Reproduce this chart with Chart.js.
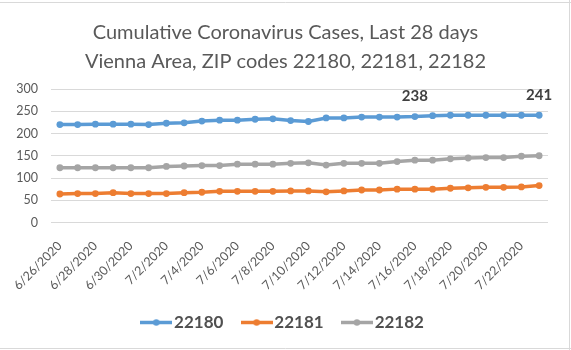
<!DOCTYPE html>
<html>
<head>
<meta charset="utf-8">
<script src="https://cdn.jsdelivr.net/npm/chart.js@4/dist/chart.umd.min.js"></script>
<style>
  html, body { margin: 0; padding: 0; background: #fff; }
  #chartBox { width: 571px; height: 350px; }
</style>
</head>
<body>
<div id="chartBox"><canvas id="casesChart" width="571" height="350"></canvas></div>
<script>
const dayLabels = [
  '6/26/2020', '6/27/2020', '6/28/2020', '6/29/2020', '6/30/2020', '7/1/2020', '7/2/2020',
  '7/3/2020', '7/4/2020', '7/5/2020', '7/6/2020', '7/7/2020', '7/8/2020', '7/9/2020',
  '7/10/2020', '7/11/2020', '7/12/2020', '7/13/2020', '7/14/2020', '7/15/2020', '7/16/2020',
  '7/17/2020', '7/18/2020', '7/19/2020', '7/20/2020', '7/21/2020', '7/22/2020', '7/23/2020'
];
const zipCodes = ['22180', '22181', '22182'];
const cases22180 = [220, 220, 221, 221, 221, 220, 223, 224, 228, 230, 230, 232, 233, 229, 227, 235, 235, 237, 237, 237, 238, 240, 241, 241, 241, 241, 241, 241];
const cases22181 = [64, 65, 65, 67, 65, 65, 65, 67, 68, 70, 70, 70, 70, 71, 71, 69, 71, 73, 73, 75, 75, 75, 77, 78, 79, 79, 80, 83];
const cases22182 = [123, 123, 123, 123, 123, 123, 126, 127, 128, 128, 131, 131, 131, 133, 134, 129, 133, 133, 133, 137, 140, 140, 143, 145, 146, 146, 149, 150];
const yTicks = [0, 50, 100, 150, 200, 250, 300];
// days on the 22180 line that get a value label
const labeledDays = [20, 27];

const seriesColors = ['#5B9BD5', '#ED7D31', '#A5A5A5'];
const fontFamily = 'Lato, "Liberation Sans", sans-serif';

// legend swatch: short line with a dot in the middle
const makeSwatch = (color) => {
  const c = document.createElement('canvas');
  c.width = 32;
  c.height = 9;
  const ctx = c.getContext('2d');
  ctx.strokeStyle = color;
  ctx.lineWidth = 3.5;
  ctx.beginPath();
  ctx.moveTo(0, 4.5);
  ctx.lineTo(32, 4.5);
  ctx.stroke();
  ctx.fillStyle = color;
  ctx.beginPath();
  ctx.arc(16, 4.5, 3.2, 0, Math.PI * 2);
  ctx.fill();
  return c;
};
const swatches = seriesColors.map(makeSwatch);

// white background plus the thin frame lines around the chart
const frame = {
  id: 'frame',
  beforeDraw(chart) {
    const { ctx, width, height } = chart;
    ctx.save();
    ctx.fillStyle = '#fff';
    ctx.fillRect(0, 0, width, height);
    ctx.strokeStyle = '#d9d9d9';
    ctx.lineWidth = 1;
    ctx.beginPath();
    ctx.moveTo(0, 2.5);
    ctx.lineTo(width, 2.5);
    ctx.moveTo(0, height - 1.5);
    ctx.lineTo(width, height - 1.5);
    ctx.moveTo(width - 1.5, 0);
    ctx.lineTo(width - 1.5, height);
    ctx.stroke();
    ctx.restore();
  }
};

const valueLabels = {
  id: 'valueLabels',
  afterDatasetsDraw(chart) {
    const meta = chart.getDatasetMeta(0);
    const ctx = chart.ctx;
    ctx.save();
    ctx.font = 'bold 15px ' + fontFamily;
    ctx.fillStyle = '#404040';
    ctx.textAlign = 'center';
    ctx.textBaseline = 'middle';
    labeledDays.forEach((i) => {
      const pt = meta.data[i];
      ctx.fillText(String(cases22180[i]), pt.x, pt.y - 20);
    });
    ctx.restore();
  }
};

const makeDataset = (label, data, color) => ({
  label,
  data,
  borderColor: color,
  backgroundColor: color,
  pointBackgroundColor: color,
  pointBorderColor: color,
  borderWidth: 3.5,
  pointRadius: 3.4,
  pointBorderWidth: 0,
  tension: 0
});

new Chart(document.getElementById('casesChart'), {
  type: 'line',
  data: {
    labels: dayLabels,
    datasets: [
      makeDataset(zipCodes[0], cases22180, seriesColors[0]),
      makeDataset(zipCodes[1], cases22181, seriesColors[1]),
      makeDataset(zipCodes[2], cases22182, seriesColors[2])
    ]
  },
  options: {
    responsive: false,
    devicePixelRatio: 1,
    animation: false,
    layout: {
      padding: { left: 0, right: 0, top: 0, bottom: 9 }
    },
    plugins: {
      title: {
        display: true,
        text: ['Cumulative Coronavirus Cases, Last 28 days', 'Vienna Area, ZIP codes 22180, 22181, 22182'],
        color: '#595959',
        font: { family: fontFamily, size: 20, weight: 'normal', lineHeight: 1.45 },
        padding: { top: 18, bottom: 13 }
      },
      legend: {
        position: 'bottom',
        labels: {
          usePointStyle: true,
          pointStyleWidth: 18.5,
          padding: 24,
          color: '#505050',
          font: { family: fontFamily, size: 17, weight: 'bold' },
          generateLabels: (chart) => {
            const items = Chart.defaults.plugins.legend.labels.generateLabels(chart);
            items.forEach((item, i) => {
              item.pointStyle = swatches[i];
            });
            return items;
          }
        }
      },
      tooltip: { enabled: false }
    },
    scales: {
      x: {
        offset: true,
        grid: { display: false },
        border: { display: false },
        ticks: {
          autoSkip: false,
          maxRotation: 45,
          minRotation: 45,
          padding: 8,
          color: '#595959',
          font: { family: fontFamily, size: 12.5 },
          callback: (value, index) => (index % 2 === 0 ? dayLabels[index] : '')
        },
        afterFit: (scale) => { scale.height = 67.5; }
      },
      y: {
        min: yTicks[0],
        max: yTicks[yTicks.length - 1],
        grid: { color: '#d9d9d9', drawTicks: false },
        border: { display: false },
        ticks: {
          stepSize: yTicks[1] - yTicks[0],
          padding: 13,
          color: '#595959',
          font: { family: fontFamily, size: 12.5 }
        },
        afterFit: (scale) => { scale.width = 51; }
      },
      // empty strip on the right so the plot stops short of the frame
      rightGap: {
        type: 'linear',
        position: 'right',
        grid: { display: false },
        border: { display: false },
        ticks: { display: false },
        afterFit: (scale) => { scale.width = 23; }
      }
    }
  },
  plugins: [frame, valueLabels]
});
</script>
</body>
</html>
